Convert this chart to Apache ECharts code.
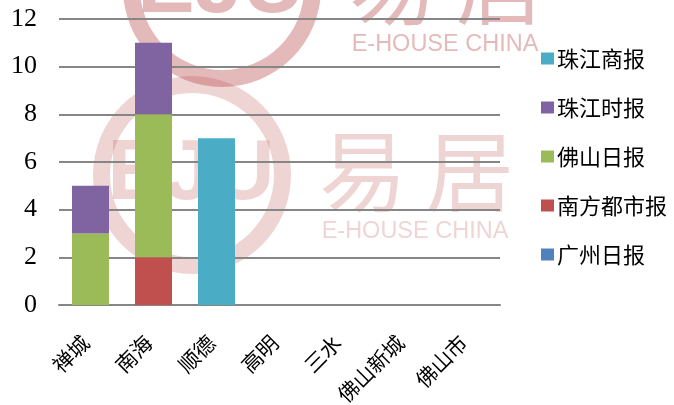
<!DOCTYPE html>
<html>
<head>
<meta charset="utf-8">
<script src="https://cdn.jsdelivr.net/npm/echarts@6/dist/echarts.min.js"></script>
<style>html,body{margin:0;padding:0;background:#fff}#c{width:674px;height:405px}</style>
</head>
<body>
<div id="c"></div>
<script>
var categories = ['禅城', '南海', '顺德', '高明', '三水', '佛山新城', '佛山市'];
var seriesNames = ['广州日报', '南方都市报', '佛山日报', '珠江时报', '珠江商报'];
var guangzhouRibao = [0, 0, 0, 0, 0, 0, 0];
var nanfangDushibao = [0, 2, 0, 0, 0, 0, 0];
var foshanRibao = [3, 6, 0, 0, 0, 0, 0];
var zhujiangShibao = [2, 3, 0, 0, 0, 0, 0];
var zhujiangShangbao = [0, 0, 7, 0, 0, 0, 0];
var yTicks = [0, 2, 4, 6, 8, 10, 12];
var colors = ['#4F81BD', '#C0504D', '#9BBB59', '#8064A2', '#4BACC6'];
var legendOrder = ['珠江商报', '珠江时报', '佛山日报', '南方都市报', '广州日报'];

var values = [guangzhouRibao, nanfangDushibao, foshanRibao, zhujiangShibao, zhujiangShangbao];

function watermark(cx, cy, color) {
  return {
    type: 'group', silent: true, z: 100,
    children: [
      { type: 'ring', shape: { cx: cx, cy: cy, r: 99, r0: 82 }, style: { fill: color } },
      { type: 'text', x: cx - 1, y: cy, style: { text: 'EJU', fill: color, font: 'bold 86px "Liberation Sans", Arial, sans-serif', align: 'center', verticalAlign: 'middle' } },
      { type: 'text', x: cx + 171, y: cy - 4, style: { text: '易', fill: color, font: '88px "Noto Sans CJK SC", sans-serif', align: 'center', verticalAlign: 'middle' } },
      { type: 'text', x: cx + 278, y: cy - 4, style: { text: '居', fill: color, font: '88px "Noto Sans CJK SC", sans-serif', align: 'center', verticalAlign: 'middle' } },
      { type: 'text', x: cx + 223, y: cy + 57, style: { text: 'E-HOUSE CHINA', fill: color, font: '23.5px "Liberation Sans", Arial, sans-serif', align: 'center', verticalAlign: 'middle' } }
    ]
  };
}

var chart = echarts.init(document.getElementById('c'), null, { renderer: 'canvas' });
chart.setOption({
  animation: false,
  color: colors,
  grid: { left: 59, right: 174, top: 19, bottom: 100, containLabel: false, outerBoundsMode: 'none' },
  legend: {
    orient: 'vertical', left: 536, top: 42,
    data: legendOrder,
    icon: 'rect', itemWidth: 13, itemHeight: 12, itemGap: 26,
    textStyle: { fontFamily: '"Noto Sans CJK SC", serif', fontSize: 22, color: '#000', lineHeight: 23, padding: [0, 0, 0, -2] }
  },
  xAxis: {
    type: 'category', data: categories,
    axisLine: { lineStyle: { color: '#868686', width: 2 } },
    axisTick: { show: false },
    axisLabel: { rotate: 45, margin: 29, padding: [0, 7, 0, 0], interval: 0, fontFamily: '"Noto Sans CJK SC", serif', fontSize: 21, color: '#000' }
  },
  yAxis: {
    type: 'value', min: 0, max: 12, interval: 2,
    axisLine: { show: false },
    axisTick: { show: false },
    splitLine: { lineStyle: { color: '#868686', width: 2 } },
    axisLabel: { margin: 22, fontFamily: '"Liberation Serif", "DejaVu Serif", serif', fontSize: 26, color: '#000',
      formatter: function (v) { return yTicks.indexOf(v) >= 0 ? String(v) : ''; } }
  },
  series: seriesNames.map(function (n, i) {
    return { name: n, type: 'bar', stack: 'total', barWidth: 37, data: values[i], itemStyle: { color: colors[i] } };
  }),
  graphic: [
    watermark(222, -12, 'rgba(180,60,60,0.36)'),
    watermark(192, 175, 'rgba(180,60,60,0.22)')
  ]
});
</script>
</body>
</html>
